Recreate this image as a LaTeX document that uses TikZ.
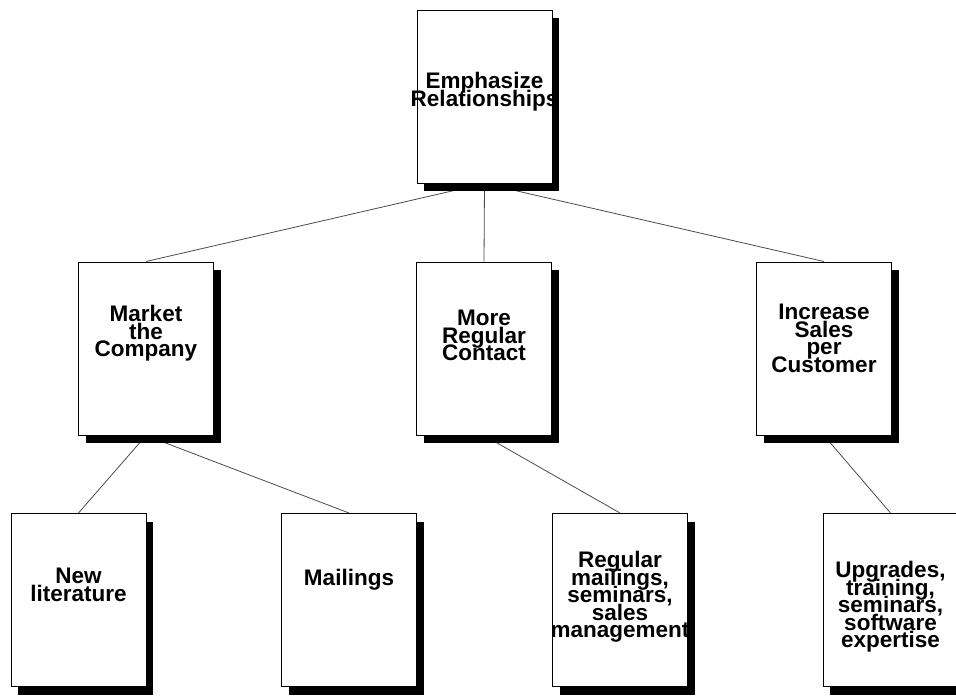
\documentclass[tikz,border=0pt]{standalone}
\usepackage{fontspec}
\setmainfont{Liberation Sans}
\usetikzlibrary{shadows,backgrounds}
\tikzset{
  box/.style={draw,line width=1pt,fill=white,minimum width=135pt,minimum height=173pt,inner sep=0pt,
    drop shadow={shadow xshift=7pt,shadow yshift=-8pt,fill=black,opacity=1}},
  txt/.style={align=center,inner sep=0pt,font={\fontsize{22.5}{17.5}\selectfont\bfseries\lineskiplimit-30pt\relax}},
  link/.style={draw=black!70,line width=0.8pt}
}
\begin{document}
\begin{tikzpicture}[x=1pt,y=-1pt]
\useasboundingbox(0,0)rectangle(956,696);
\foreach \n/\x/\y/\dy/\txt in {top/484.5/96.5/5/{Emphasize\\Relationships},
  m1/146/348.5/15/{Market\\the\\Company},m2/484/348.5/13/{More\\Regular\\Contact},
  m3/824/348.5/10/{Increase\\Sales\\per\\Customer},
  b1/78.5/600/15/{New\\literature},b2/349/600/20/{Mailings},
  b3/620/600/3/{Regular\\mailings,\\seminars,\\sales\\management},
  b4/890.5/600/-7/{Upgrades,\\training,\\seminars,\\software\\expertise}}{
  \node[box](\n)at(\x,\y){};
  \node[txt,yshift=\dy pt](\n-t)at(\n){\txt};
}
\begin{scope}[on background layer]
\fill[white](0,0)rectangle(956,696);
\foreach \a/\b in {top/m1,top/m2,top/m3,m1/b1,m1/b2,m2/b3,m3/b4}
  \draw[link](\a.south)--(\b.north);
\end{scope}
\end{tikzpicture}
\end{document}
